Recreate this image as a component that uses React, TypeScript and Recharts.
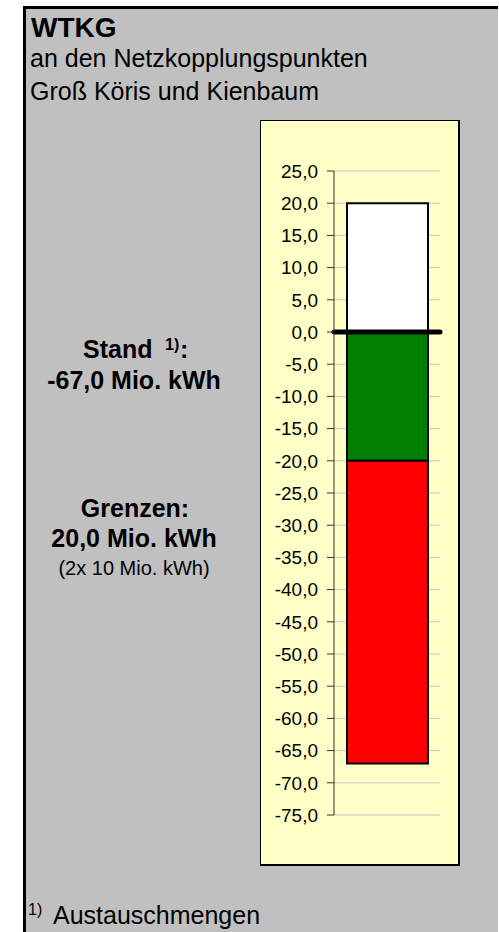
import React from "react";
import {
  BarChart,
  Bar,
  XAxis,
  YAxis,
  CartesianGrid,
  ReferenceLine,
} from "recharts";

// values (Mio. kWh)
const categories = ["WTKG"];
const upperLimit = [20];
const lowerLimit = [-20];
const overLimit = [-47]; // stand -67,0 minus lower limit -20,0
const zeroLevel = 0;
const yTicks = [
  25, 20, 15, 10, 5, 0, -5, -10, -15, -20, -25, -30, -35, -40, -45, -50, -55,
  -60, -65, -70, -75,
];

const chartData = categories.map((name, i) => ({
  name,
  upper: upperLimit[i],
  lower: lowerLimit[i],
  over: overLimit[i],
}));

const FONT = "'Liberation Sans', Arial, Helvetica, sans-serif";

const fmt = (v: number) => v.toFixed(1).replace(".", ",");

export default function App() {
  return (
    <div
      style={{
        position: "absolute",
        left: 0,
        top: 0,
        width: 499,
        height: 932,
        background: "#ffffff",
        overflow: "hidden",
        fontFamily: FONT,
      }}
    >
      {/* grey panel with thick black edge */}
      <div
        style={{
          position: "absolute",
          left: 23,
          top: 6,
          width: 475,
          height: 926,
          boxSizing: "border-box",
          background: "#c0c0c0",
          borderLeft: "3px solid #000",
          borderTop: "3px solid #000",
        }}
      />
      {/* yellow chart area */}
      <div
        style={{
          position: "absolute",
          left: 260,
          top: 120,
          width: 200,
          height: 746,
          boxSizing: "border-box",
          background: "#ffffc8",
          borderLeft: "1px solid #000",
          borderTop: "1px solid #000",
          borderRight: "2px solid #000",
          borderBottom: "2px solid #000",
        }}
      />

      <svg
        width={499}
        height={932}
        style={{ position: "absolute", left: 0, top: 0 }}
        fontFamily={FONT}
      >
        <text x={31} y={37} fontSize={28} fontWeight="bold" fill="#000">
          WTKG
        </text>
        <text x={30} y={67} fontSize={25} fill="#000">
          an den Netzkopplungspunkten
        </text>
        <text x={30} y={100} fontSize={25} fill="#000">
          Groß Köris und Kienbaum
        </text>

        <text x={83} y={358} fontSize={25} fontWeight="bold" fill="#000">
          Stand
        </text>
        <text x={165} y={350} fontSize={16} fontWeight="bold" fill="#000">
          1)
        </text>
        <text x={180} y={358} fontSize={25} fontWeight="bold" fill="#000">
          :
        </text>
        <text
          x={134}
          y={389}
          fontSize={25}
          fontWeight="bold"
          textAnchor="middle"
          fill="#000"
        >
          -67,0 Mio. kWh
        </text>

        <text
          x={135}
          y={517}
          fontSize={25}
          fontWeight="bold"
          textAnchor="middle"
          fill="#000"
        >
          Grenzen:
        </text>
        <text
          x={134}
          y={547}
          fontSize={25}
          fontWeight="bold"
          textAnchor="middle"
          fill="#000"
        >
          20,0 Mio. kWh
        </text>
        <text x={134} y={575} fontSize={20} textAnchor="middle" fill="#000">
          (2x 10 Mio. kWh)
        </text>

        <text x={28} y={915} fontSize={16} fill="#000">
          1)
        </text>
        <text x={53} y={924} fontSize={25} fill="#000">
          Austauschmengen
        </text>
      </svg>

      <div style={{ position: "absolute", left: 260, top: 120 }}>
        <BarChart
          width={199}
          height={745}
          data={chartData}
          stackOffset="sign"
          margin={{ top: 51, right: 19, bottom: 50, left: 0 }}
          barSize={81}
        >
          <CartesianGrid
            vertical={false}
            stroke="#c4c4cc"
            strokeWidth={1}
          />
          <XAxis dataKey="name" hide height={0} />
          <YAxis
            width={74}
            domain={[-75, 25]}
            ticks={yTicks}
            interval={0}
            tickFormatter={fmt}
            tickSize={7}
            tickMargin={9}
            stroke="#333333"
            tick={{ fill: "#000", fontSize: 19, fontFamily: FONT }}
          />
          <Bar
            dataKey="upper"
            stackId="a"
            fill="#ffffff"
            stroke="#000"
            strokeWidth={2}
            isAnimationActive={false}
          />
          <Bar
            dataKey="lower"
            stackId="a"
            fill="#008000"
            stroke="#000"
            strokeWidth={2}
            isAnimationActive={false}
          />
          <Bar
            dataKey="over"
            stackId="a"
            fill="#ff0000"
            stroke="#000"
            strokeWidth={2}
            isAnimationActive={false}
          />
          <ReferenceLine
            y={zeroLevel}
            stroke="#000"
            strokeWidth={5}
            strokeLinecap="round"
          />
        </BarChart>
      </div>
    </div>
  );
}
